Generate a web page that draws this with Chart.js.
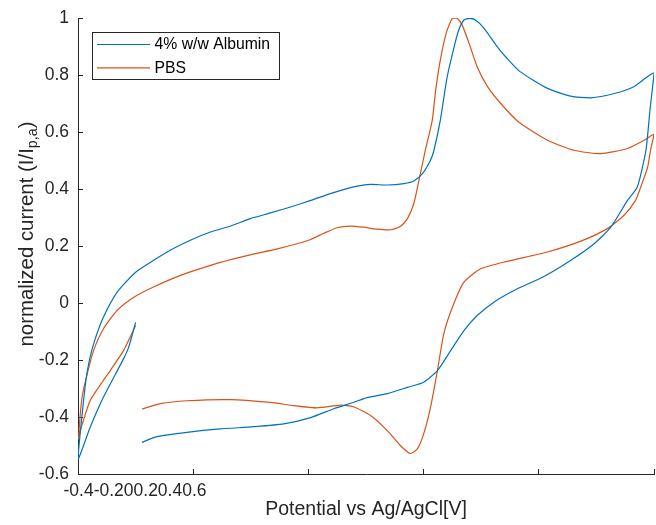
<!DOCTYPE html>
<html>
<head>
<meta charset="utf-8">
<script src="https://cdn.jsdelivr.net/npm/chart.js@4/dist/chart.umd.min.js"></script>
<style>
  html, body { margin: 0; padding: 0; background: #ffffff; }
  canvas { display: block; }
</style>
</head>
<body>
<canvas id="c" width="656" height="525"></canvas>
<script>
// ---- data ----
const seriesNames = ['4% w/w Albumin', 'PBS'];

const albuminX = [-0.300,-0.312,-0.321,-0.356,-0.379,-0.400,
  -0.387,-0.379,-0.370,-0.356,-0.332,-0.300,-0.274,-0.240,-0.205,-0.170,
  -0.135,-0.101,-0.066,-0.031,0.004,0.038,0.061,0.085,0.108,0.137,
  0.166,0.183,0.198,0.212,0.218,0.229,0.241,0.253,0.261,0.270,
  0.279,0.290,0.305,0.328,0.345,0.368,0.415,0.455,0.490,0.531,
  0.565,0.600,
  0.593,0.586,0.571,0.554,0.525,0.496,0.455,0.409,0.357,0.322,
  0.293,0.270,0.247,0.224,0.200,0.172,0.137,0.102,0.078,0.044,
  0.004,-0.043,-0.095,-0.153,-0.211,-0.263,-0.289];
const albuminY = [-0.068,-0.155,-0.196,-0.331,-0.437,-0.547,
  -0.283,-0.190,-0.125,-0.050,0.038,0.108,0.143,0.185,0.220,0.249,
  0.270,0.296,0.316,0.337,0.360,0.384,0.398,0.410,0.416,0.414,
  0.419,0.428,0.454,0.501,0.536,0.641,0.794,0.899,0.958,0.993,
  0.999,0.993,0.964,0.899,0.858,0.811,0.753,0.726,0.720,0.735,
  0.759,0.806,
  0.677,0.536,0.407,0.360,0.266,0.208,0.149,0.093,0.044,0.003,
  -0.044,-0.097,-0.167,-0.237,-0.278,-0.296,-0.318,-0.332,-0.349,-0.371,
  -0.402,-0.424,-0.434,-0.442,-0.454,-0.469,-0.489];

const pbsX = [-0.300,-0.321,-0.344,-0.356,-0.379,-0.396,-0.399,
  -0.393,-0.384,-0.373,-0.356,-0.332,-0.303,-0.269,-0.222,-0.170,-0.135,
  -0.101,-0.054,-0.020,0.004,0.027,0.050,0.073,0.096,0.119,0.143,
  0.160,0.172,0.183,0.192,0.203,0.215,0.221,0.229,0.240,0.250,
  0.258,0.267,0.279,0.293,0.311,0.334,0.365,0.415,0.461,0.507,
  0.554,0.583,0.600,
  0.594,0.589,0.577,0.568,0.548,0.519,0.473,0.415,0.345,0.299,
  0.270,0.250,0.235,0.224,0.212,0.200,0.189,0.177,0.160,0.137,
  0.108,0.078,0.056,0.015,-0.026,-0.066,-0.135,-0.211,-0.257,-0.289];
const pbsY = [-0.079,-0.167,-0.237,-0.272,-0.343,-0.448,-0.477,
  -0.331,-0.249,-0.167,-0.091,-0.026,0.020,0.056,0.097,0.132,0.152,
  0.169,0.190,0.208,0.223,0.245,0.264,0.270,0.266,0.259,0.257,
  0.269,0.296,0.349,0.431,0.536,0.641,0.747,0.852,0.952,0.999,
  0.999,0.975,0.911,0.829,0.759,0.700,0.635,0.571,0.536,0.524,
  0.542,0.571,0.592,
  0.536,0.477,0.407,0.360,0.308,0.261,0.217,0.179,0.146,0.120,
  0.073,-0.015,-0.108,-0.237,-0.366,-0.460,-0.512,-0.528,-0.501,-0.448,
  -0.395,-0.364,-0.358,-0.368,-0.360,-0.349,-0.339,-0.343,-0.353,-0.372];

const xTickLabels = ['-0.4','-0.2','0','0.2','0.4','0.6'];
const yTickLabels = ['-0.6','-0.4','-0.2','0','0.2','0.4','0.6','0.8','1'];
const xTitle = 'Potential vs Ag/AgCl[V]';
const yTitleMain = 'normalized current (I/I';
const yTitleSub = 'p,a';
const yTitleEnd = ')';

// ---- styling ----
const FONT = "'Liberation Sans', Arial, Helvetica, sans-serif";
const AXIS_COLOR = '#262626';
const COLORS = ['#0072BD', '#D95319'];

function toPoints(xs, ys) { return xs.map((x, i) => ({ x: x, y: ys[i] })); }

const matlabExtras = {
  id: 'matlabExtras',
  afterDraw(chart) {
    const ctx = chart.ctx;
    const ca = chart.chartArea;
    ctx.save();
    // legend box
    const lf = 15.75;
    ctx.font = lf + 'px ' + FONT;
    const tw = Math.max(...seriesNames.map(s => ctx.measureText(s).width));
    const bx = ca.left + 14, by = ca.top + 14;
    const bw = 62.5 + tw + 8.5, bh = 47;
    ctx.fillStyle = '#ffffff';
    ctx.fillRect(bx, by, bw, bh);
    ctx.strokeStyle = AXIS_COLOR;
    ctx.lineWidth = 1;
    ctx.strokeRect(Math.round(bx) + 0.5, Math.round(by) + 0.5, Math.round(bw), Math.round(bh));
    seriesNames.forEach((name, i) => {
      const cy = by + 12.5 + i * 23.4;
      ctx.strokeStyle = COLORS[i];
      ctx.lineWidth = 1.2;
      ctx.beginPath();
      ctx.moveTo(bx + 5, cy);
      ctx.lineTo(bx + 58, cy);
      ctx.stroke();
      ctx.fillStyle = '#000000';
      ctx.textBaseline = 'middle';
      ctx.textAlign = 'left';
      ctx.fillText(name, bx + 62.5, cy + 0.5);
    });
    // y-axis title with subscript
    const tf = 20.4, sf = 14.3;
    ctx.font = tf + 'px ' + FONT;
    const w1 = ctx.measureText(yTitleMain).width;
    const w3 = ctx.measureText(yTitleEnd).width;
    ctx.font = sf + 'px ' + FONT;
    const w2 = ctx.measureText(yTitleSub).width;
    const total = w1 + w2 + w3;
    const cy = (ca.top + ca.bottom) / 2 - 12;
    ctx.translate(33, cy);
    ctx.rotate(-Math.PI / 2);
    ctx.fillStyle = AXIS_COLOR;
    ctx.textAlign = 'left';
    ctx.textBaseline = 'alphabetic';
    const x0 = -total / 2;
    ctx.font = tf + 'px ' + FONT;
    ctx.fillText(yTitleMain, x0, 0);
    ctx.font = sf + 'px ' + FONT;
    ctx.fillText(yTitleSub, x0 + w1, 3.5);
    ctx.font = tf + 'px ' + FONT;
    ctx.fillText(yTitleEnd, x0 + w1 + w2, 0);
    ctx.restore();
  }
};

new Chart(document.getElementById('c'), {
  type: 'scatter',
  data: {
    datasets: [
      { label: seriesNames[0], data: toPoints(albuminX, albuminY), borderColor: COLORS[0], backgroundColor: COLORS[0] },
      { label: seriesNames[1], data: toPoints(pbsX, pbsY), borderColor: COLORS[1], backgroundColor: COLORS[1] }
    ]
  },
  options: {
    responsive: false,
    animation: false,
    devicePixelRatio: 1,
    showLine: true,
    elements: {
      point: { radius: 0, hoverRadius: 0 },
      line: { borderWidth: 1.2, tension: 0.2, fill: false }
    },
    layout: { padding: { top: 18, right: 2, left: 0, bottom: 0 } },
    plugins: { legend: { display: false }, tooltip: { enabled: false } },
    scales: {
      x: {
        type: 'linear', position: 'bottom',
        min: -0.4, max: 0.6,
        afterFit(scale) { scale.height = 51; scale.paddingLeft = 0; scale.paddingRight = 0; },
        grid: { drawOnChartArea: false, drawTicks: true, tickLength: -5, color: AXIS_COLOR },
        border: { display: true, color: AXIS_COLOR, width: 1 },
        ticks: {
          stepSize: 0.2, autoSkip: false, minRotation: 0, maxRotation: 0,
          align: 'start', labelOffset: -14.5, padding: 12,
          color: AXIS_COLOR, font: { family: FONT, size: 17.5 },
          callback: (v, i) => i === 0 ? xTickLabels.join('') : ''
        },
        title: { display: true, text: xTitle, color: AXIS_COLOR, font: { family: FONT, size: 19.5 }, padding: { top: 0, bottom: 4 } }
      },
      y: {
        type: 'linear', position: 'left',
        min: -0.6, max: 1,
        afterFit(scale) { scale.width = 78; scale.paddingTop = 0; scale.paddingBottom = 0; },
        grid: { drawOnChartArea: false, drawTicks: true, tickLength: -5, color: AXIS_COLOR },
        border: { display: true, color: AXIS_COLOR, width: 1 },
        ticks: {
          stepSize: 0.2, padding: 14,
          color: AXIS_COLOR, font: { family: FONT, size: 17.5 },
          callback: (v, i) => yTickLabels[i]
        }
      }
    }
  },
  plugins: [matlabExtras]
});
</script>
</body>
</html>
